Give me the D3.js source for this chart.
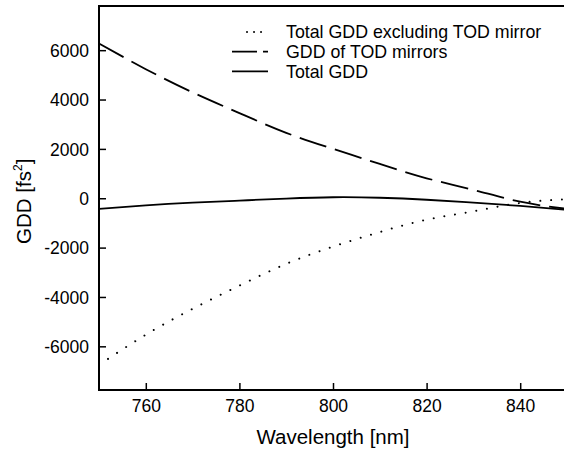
<!DOCTYPE html>
<html>
<head>
<meta charset="utf-8">
<script src="https://cdn.jsdelivr.net/npm/d3@7"></script>
<style>
  body { margin: 0; background: #fff; }
  svg { font-family: "Liberation Sans", Arial, sans-serif; }
</style>
</head>
<body>
<svg id="chart" width="564" height="452"></svg>
<script>
const wavelength = [750, 760, 770, 780, 790, 800, 810, 820, 830, 840, 850];
const gddExclTod = [-6750, -5530, -4480, -3540, -2660, -1960, -1370, -870, -530, -190, -40];
const gddTodMirrors = [6270, 5230, 4290, 3450, 2650, 2000, 1390, 810, 340, -140, -430];
const gddTotal = [-433, -290, -180, -95, -15, 40, 20, -60, -180, -310, -470];
const xTicks = [760, 780, 800, 820, 840];
const yTicks = [-6000, -4000, -2000, 0, 2000, 4000, 6000];
const legendLabels = ['Total GDD excluding TOD mirror', 'GDD of TOD mirrors', 'Total GDD'];

let svg = d3.select('#chart');

let padding = { top: 6, bottom: 62, left: 99, right: -3 };
let width = 564, height = 452;

let x = d3.scaleLinear()
  .domain([750, 850])
  .range([padding.left, width - padding.right]);

let y = d3.scaleLinear()
  .domain([-7770, 7790])
  .range([height - padding.bottom, padding.top]);

svg.append('clipPath')
  .attr('id', 'plot-clip')
  .append('rect')
  .attr('x', padding.left)
  .attr('y', padding.top)
  .attr('width', width - padding.left - padding.right)
  .attr('height', height - padding.top - padding.bottom);

let series = [
  { name: legendLabels[0], values: gddExclTod, dash: '0.01 10.8', width: 2 },
  { name: legendLabels[1], values: gddTodMirrors, dash: '28 9', width: 1.8 },
  { name: legendLabels[2], values: gddTotal, dash: null, width: 1.8 }
];

let line = d3.line()
  .x(d => x(d[0]))
  .y(d => y(d[1]))
  .curve(d3.curveNatural);

let plot = svg.append('g').attr('clip-path', 'url(#plot-clip)');

plot.selectAll('.curve')
  .data(series)
  .enter()
  .append('path')
  .attr('class', 'curve')
  .attr('fill', 'none')
  .attr('stroke', '#000')
  .attr('stroke-width', d => d.width)
  .attr('stroke-linecap', d => d.dash && d.width === 2 ? 'round' : 'butt')
  .attr('stroke-dasharray', d => d.dash)
  .attr('d', d => line(wavelength.map((w, i) => [w, d.values[i]])));

// axes, ticks drawn inward
let xAxis = svg.append('g')
  .attr('transform', `translate(0,${height - padding.bottom})`)
  .call(d3.axisBottom(x).tickValues(xTicks).tickSize(-7).tickPadding(10).tickFormat(d => String(d)));

let yAxis = svg.append('g')
  .attr('transform', `translate(${padding.left},0)`)
  .call(d3.axisLeft(y).tickValues(yTicks).tickSize(-7).tickPadding(10).tickFormat(d => String(d)));

[xAxis, yAxis].forEach(a => {
  a.select('.domain').remove();
  a.selectAll('.tick line').attr('stroke', '#000').attr('stroke-width', 1.5);
  a.selectAll('.tick text').attr('fill', '#000').attr('font-size', 17.5)
    .attr('font-family', '"Liberation Sans", Arial, sans-serif');
});
yAxis.selectAll('.tick text').attr('dy', '0.36em');

// spines: left, top, bottom
svg.append('path')
  .attr('fill', 'none')
  .attr('stroke', '#000')
  .attr('stroke-width', 2)
  .attr('d', `M${width},${padding.top}H${padding.left}V${height - padding.bottom}H${width}`);

// axis titles
svg.append('text')
  .attr('x', x(800))
  .attr('y', 444)
  .attr('text-anchor', 'middle')
  .attr('font-size', 20.5)
  .text('Wavelength [nm]');

let yTitle = svg.append('text')
  .attr('transform', `translate(31,${y(0) + 3}) rotate(-90)`)
  .attr('text-anchor', 'middle')
  .attr('font-size', 20.5);
yTitle.append('tspan').text('GDD [fs');
yTitle.append('tspan').attr('font-size', 12).attr('dy', -9).text('2');
yTitle.append('tspan').attr('dy', 9).text(']');

// legend
let legend = svg.append('g');
let legendRows = legend.selectAll('.legend-row')
  .data(series)
  .enter()
  .append('g')
  .attr('class', 'legend-row')
  .attr('transform', (d, i) => `translate(0,${32 + i * 19.7})`);

legendRows.append('line')
  .attr('x1', (d, i) => i === 0 ? 247 : 232)
  .attr('x2', 268)
  .attr('stroke', '#000')
  .attr('stroke-width', d => d.width)
  .attr('stroke-linecap', (d, i) => i === 0 ? 'round' : 'butt')
  .attr('stroke-dasharray', (d, i) => i === 0 ? '0.01 7' : (i === 1 ? '25 6' : null));

legendRows.append('text')
  .attr('x', 286)
  .attr('dy', '0.36em')
  .attr('font-size', 17.8)
  .text(d => d.name);
</script>
</body>
</html>
